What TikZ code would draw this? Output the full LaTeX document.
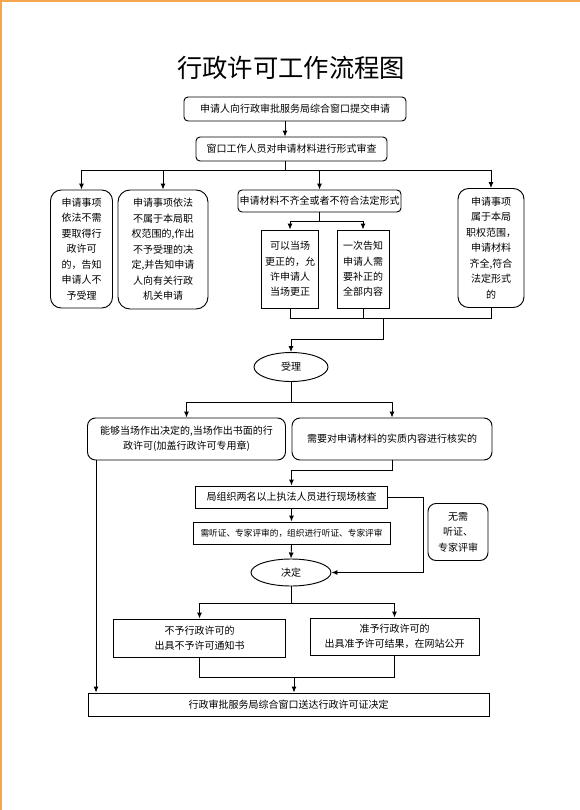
\documentclass[tikz,border=0pt]{standalone}
\usepackage{fontspec}
\setmainfont{Noto Sans CJK SC}
\usetikzlibrary{shapes.geometric,arrows.meta}
\definecolor{pageorange}{RGB}{245,165,80}
\begin{document}
\begin{tikzpicture}[x=0.75pt,y=-0.75pt,
  every node/.style={font=\fontsize{7.5}{11.6}\selectfont, inner sep=0pt, align=center},
  rbox/.style={draw, line width=0.7pt, rounded corners=6pt},
  sbox/.style={draw, line width=0.7pt, rounded corners=3pt},
  pbox/.style={draw, line width=0.7pt},
  oval/.style={draw, line width=0.7pt, ellipse},
  conn/.style={line width=0.7pt},
  arr/.style={line width=0.7pt, -{Latex[length=4.5pt,width=3.8pt]}}]
\useasboundingbox (0,0) rectangle (580,810);
\draw[pageorange, line width=1.6pt] (1,810) -- (1,1) -- (580,1);

\node (title) at (291,68) {\fontsize{19}{22}\selectfont 行政许可工作流程图};

\node[sbox, minimum width=222*0.75pt, minimum height=24*0.75pt] (b1) at (295,109) {申请人向行政审批服务局综合窗口提交申请};
\node[sbox, minimum width=191*0.75pt, minimum height=24*0.75pt] (b2) at (291.5,149) {窗口工作人员对申请材料进行形式审查};

\node[rbox, rounded corners=8pt, minimum width=62*0.75pt, minimum height=118*0.75pt] (l1) at (81.5,249)
  {申请事项\\依法不需\\要取得行\\政许可\\的，告知\\申请人不\\予受理};
\node[rbox, rounded corners=9pt, minimum width=90*0.75pt, minimum height=119*0.75pt] (l2) at (163,249.5)
  {申请事项依法\\不属于本局职\\权范围的,作出\\不予受理的决\\定,并告知申请\\人向有关行政\\机关申请};
\node[sbox, minimum width=163*0.75pt, minimum height=22*0.75pt] (m) at (319.5,201) {申请材料不齐全或者不符合法定形式};
\node[pbox, minimum width=57*0.75pt, minimum height=78*0.75pt] (m1) at (290,269)
  {可以当场\\更正的，允\\许申请人\\当场更正};
\node[pbox, minimum width=52*0.75pt, minimum height=78*0.75pt] (m2) at (363,269)
  {一次告知\\申请人需\\要补正的\\全部内容};
\node[rbox, rounded corners=8pt, minimum width=66*0.75pt, minimum height=119*0.75pt] (r) at (491,248)
  {申请事项\\属于本局\\职权范围，\\申请材料\\齐全,符合\\法定形式\\的};

\node[oval, minimum width=74*0.75pt, minimum height=29*0.75pt] (acc) at (291,367) {受理};

\node[rbox, minimum width=198*0.75pt, minimum height=42*0.75pt] (a) at (186.5,439)
  {能够当场作出决定的,当场作出书面的行\\政许可(加盖行政许可专用章)};
\node[rbox, minimum width=200*0.75pt, minimum height=42*0.75pt] (bb) at (392,439)
  {需要对申请材料的实质内容进行核实的};

\node[pbox, minimum width=192*0.75pt, minimum height=22*0.75pt] (c) at (291.5,497) {局组织两名以上执法人员进行现场核查};
\node[pbox, minimum width=197*0.75pt, minimum height=22*0.75pt, font=\fontsize{6.5}{8}\selectfont] (d) at (291.5,533) {需听证、专家评审的，组织进行听证、专家评审};
\node[oval, minimum width=80*0.75pt, minimum height=27*0.75pt] (dec) at (291,572.5) {决定};
\node[rbox, minimum width=60*0.75pt, minimum height=57*0.75pt] (e) at (458,532) {无需\\听证、\\专家评审};

\node[pbox, minimum width=172*0.75pt, minimum height=38*0.75pt] (f) at (199.5,638) {不予行政许可的\\出具不予许可通知书};
\node[pbox, minimum width=169*0.75pt, minimum height=37*0.75pt] (g) at (394.5,636.5) {准予行政许可的\\出具准予许可结果，在网站公开};
\node[pbox, minimum width=401*0.75pt, minimum height=23*0.75pt] (h) at (288.5,704.5) {行政审批服务局综合窗口送达行政许可证决定};

% connectors
\coordinate (j1) at (285,170);
\draw[arr] (b1.south -| j1) -- (b2.north -| j1);
\draw[conn] (b2.south -| j1) -- (j1);
\draw[arr] (j1) -| (l1.north);
\draw[arr] (j1) -| (l2.north);
\draw[arr] (j1) -| (m.north);
\draw[arr] (j1) -| (r.north);

\coordinate (j2) at (0,221);
\draw[conn] (m.south) -- (m.south |- j2);
\draw[arr] (m.south |- j2) -| (m1.north);
\draw[arr] (m.south |- j2) -| (m2.north);

\coordinate (j3) at (383,318);
\coordinate (j4) at (383,339);
\draw[conn] (m1.south) |- (r.south |- j3) -- (r.south);
\draw[conn] (m2.south) -- (m2.south |- j3);
\draw[arr] (j3) -- (j4) -| (acc.north);

\coordinate (j5) at (0,402);
\draw[conn] (acc.south) -- (acc.south |- j5);
\draw[arr] (acc.south |- j5) -| (a.north);
\draw[arr] (acc.south |- j5) -| (bb.north);

\coordinate (k1) at (96,0);
\draw[arr] (a.south -| k1) -- (h.north -| k1);

\coordinate (j6) at (0,470);
\draw[arr] (bb.south) |- (c.north |- j6) -- (c.north);
\draw[arr] (c.south) -- (d.north);
\draw[arr] (d.south) -- (dec.north);
\coordinate (k2) at (423,0);
\draw[arr] (c.east) -- (c.east -| k2) |- (dec.east);

\coordinate (j7) at (0,603);
\draw[conn] (dec.south) -- (dec.south |- j7);
\draw[arr] (dec.south |- j7) -| (f.north);
\draw[arr] (dec.south |- j7) -| (g.north);

\coordinate (j8) at (294,677);
\draw[conn] (f.south) |- (j8);
\draw[conn] (g.south) |- (j8);
\draw[arr] (j8) -- (h.north -| j8);
\end{tikzpicture}
\end{document}
